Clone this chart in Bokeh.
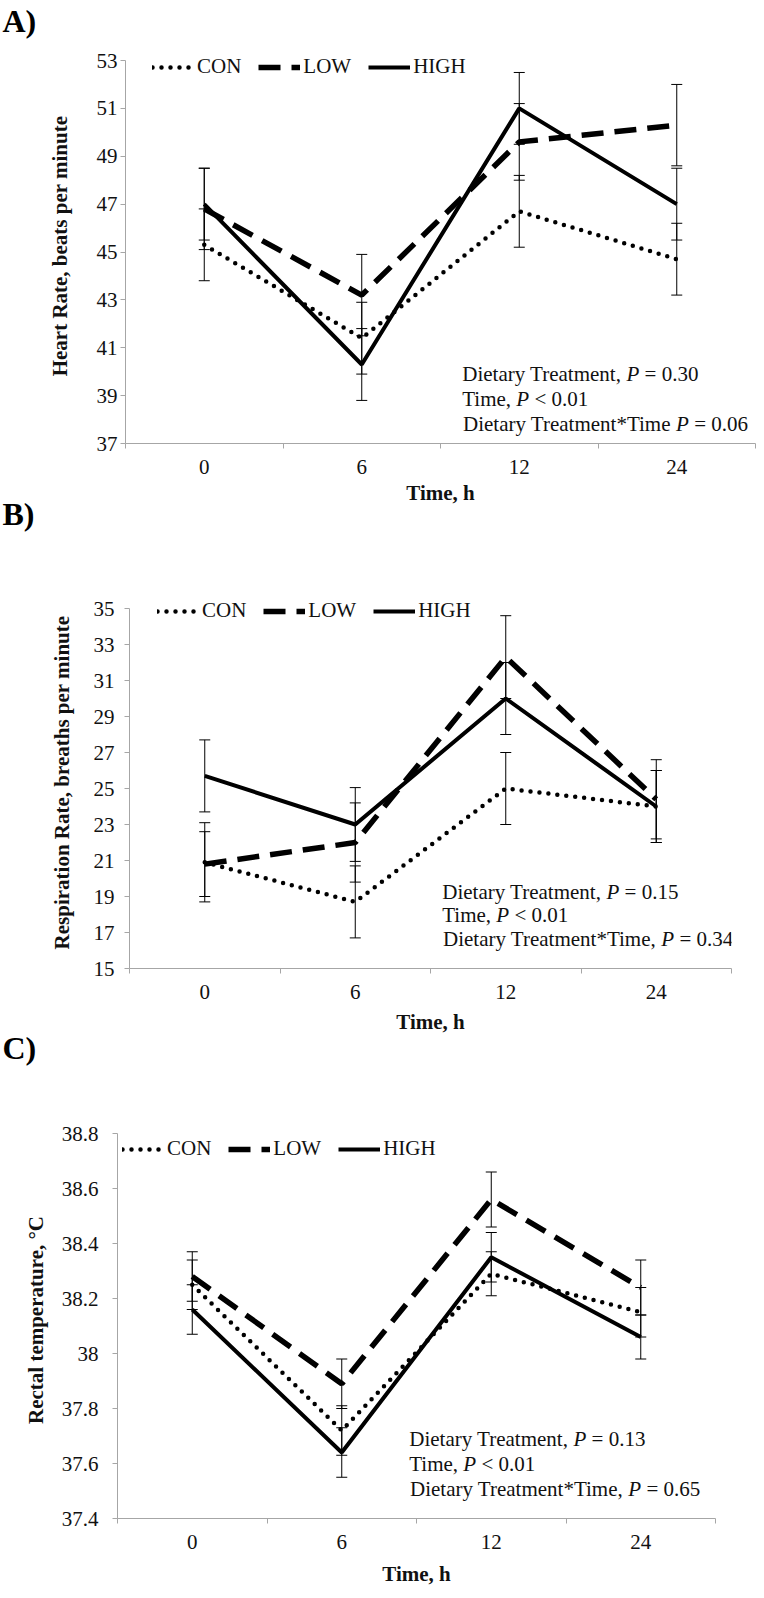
from bokeh.plotting import figure
from bokeh.models import (Range1d, LinearAxis, FixedTicker, CustomJSTickFormatter,
                          PrintfTickFormatter, Whisker, TeeHead, ColumnDataSource,
                          Legend, LegendItem, Label, Title)
from bokeh.layouts import column
from bokeh.embed import file_html
from bokeh.resources import INLINE

# ---------------- data ----------------
times = ["0", "6", "12", "24"]
groups = ["CON", "LOW", "HIGH"]

hr_con = [45.3, 41.4, 46.7, 44.7]
hr_con_se = [1.5, 1.5, 1.5, 1.5]
hr_low = [46.8, 43.2, 49.6, 50.3]
hr_low_se = [1.7, 1.7, 1.6, 1.7]
hr_high = [47.0, 40.3, 51.0, 47.0]
hr_high_se = [1.5, 1.5, 1.5, 1.5]
hr_ticks = [37, 39, 41, 43, 45, 47, 49, 51, 53]

rr_con = [20.9, 18.7, 25.0, 24.0]
rr_con_se = [2.2, 2.0, 2.0, 2.0]
rr_low = [20.8, 22.0, 32.3, 24.4]
rr_low_se = [1.8, 2.2, 2.3, 2.2]
rr_high = [25.7, 23.0, 30.0, 24.0]
rr_high_se = [2.0, 2.05, 2.0, 2.0]
rr_ticks = [15, 17, 19, 21, 23, 25, 27, 29, 31, 33, 35]

rt_con = [38.25, 37.72, 38.29, 38.15]
rt_con_se = [0.09, 0.09, 0.08, 0.09]
rt_low = [38.28, 37.89, 38.56, 38.24]
rt_low_se = [0.09, 0.09, 0.10, 0.10]
rt_high = [38.16, 37.64, 38.35, 38.06]
rt_high_se = [0.09, 0.09, 0.09, 0.08]
rt_ticks = [37.4, 37.6, 37.8, 38.0, 38.2, 38.4, 38.6, 38.8]

hr_stats = [("Dietary Treatment, ", "P", " = 0.30"),
            ("Time, ", "P", " < 0.01"),
            ("Dietary Treatment*Time ", "P", " = 0.06")]
rr_stats = [("Dietary Treatment, ", "P", " = 0.15"),
            ("Time, ", "P", " < 0.01"),
            ("Dietary Treatment*Time, ", "P", " = 0.34")]
rt_stats = [("Dietary Treatment, ", "P", " = 0.13"),
            ("Time, ", "P", " < 0.01"),
            ("Dietary Treatment*Time, ", "P", " = 0.65")]

# ---------------- styling ----------------
FONT = "Liberation Serif"
FS = 21
LFS = 32
TH = FS * 1.107          # text box height used by the layout
LTH = LFS * 1.107 + 2
GRAY = "#a6a6a6"
INK = "#111111"
STYLES = {
    "CON": dict(line_dash="0 9", line_width=4.5, line_cap="round"),
    "LOW": dict(line_dash="22 11", line_width=5.5),
    "HIGH": dict(line_width=4),
}

# Times / Liberation Serif advance widths (per 1000 em)
W_REG = {" ": 250, "*": 500, ",": 250, ".": 250, "<": 564, "=": 564,
         "D": 722, "T": 611, "P": 556, "a": 444, "e": 444, "i": 278, "m": 778,
         "n": 500, "r": 333, "t": 278, "y": 500}
for d in "0123456789":
    W_REG[d] = 500
W_ITAL_P = 611


def text_w(s):
    return sum(W_REG.get(c, 500) for c in s) * FS / 1000.0


def panel(letter, ylabel, ticks, yr, series, stats, g):
    top, h = g["top"], g["h"]
    fl, fr, at, ab = g["fl"], g["fr"], g["at"], g["ab"]
    pad = 12  # room above the top tick for the legend
    n = len(times)
    ymin, ymax = yr
    ytop = ymax + pad * (ymax - ymin) / (ab - at)
    ftop = at - pad
    p = figure(width=764, height=h, output_backend="svg", toolbar_location=None,
               x_range=Range1d(0, n), y_range=Range1d(ymin, ytop),
               x_axis_type=None, y_axis_type=None,
               min_border_left=fl, min_border_right=764 - fr,
               min_border_top=ftop - top, min_border_bottom=top + h - ab)
    if "frame_align" in p.properties():
        p.frame_align = False
    p.outline_line_color = None
    p.background_fill_color = "white"
    p.border_fill_color = "white"
    p.border_fill_alpha = 0.0
    if g.get("overlap", 0):
        try:
            p.margin = (-g["overlap"], 0, 0, 0)
        except Exception:
            pass

    # spacer (nearest the frame) so that the panel letter sits at the figure top
    spacer = LinearAxis(ticker=FixedTicker(ticks=[0.5]), axis_line_color=None,
                        formatter=CustomJSTickFormatter(code="return '';"),
                        major_tick_line_color=None, minor_tick_line_color=None,
                        major_tick_out=max(int(ftop - top - LTH), 0), major_tick_in=0,
                        minor_tick_out=0, major_label_standoff=0,
                        major_label_text_font_size="1px")
    p.add_layout(spacer, "above")
    p.add_layout(Title(text=letter, align="left", offset=2 - fl, standoff=0,
                       text_font=FONT, text_font_size=f"{LFS}px",
                       text_font_style="bold", text_color="black"), "above")

    def dx(px):
        return (px - fl) / (fr - fl) * n

    def dy(py):
        return ymax - (py - at) / (ab - at) * (ymax - ymin)

    # y axis
    ya = LinearAxis(ticker=FixedTicker(ticks=ticks), formatter=PrintfTickFormatter(format="%g"),
                    axis_label=ylabel, bounds=(ymin, ymax))
    ya.axis_line_color = GRAY
    ya.major_tick_line_color = GRAY
    ya.major_tick_out = 5
    ya.major_tick_in = 0
    ya.minor_tick_line_color = None
    ya.major_label_standoff = g["ystand"]
    ya.major_label_text_font = FONT
    ya.major_label_text_font_size = f"{FS}px"
    ya.major_label_text_color = INK
    ya.axis_label_text_font = FONT
    ya.axis_label_text_font_size = f"{FS}px"
    ya.axis_label_text_font_style = "bold"
    ya.axis_label_text_color = INK
    ya.axis_label_standoff = g["lstand"]
    p.add_layout(ya, "left")

    # x axis: boundary ticks
    xa1 = LinearAxis(ticker=FixedTicker(ticks=list(range(n + 1))),
                     formatter=CustomJSTickFormatter(code="return '';"))
    xa1.axis_line_color = GRAY
    xa1.major_tick_line_color = GRAY
    xa1.major_tick_out = 5
    xa1.major_tick_in = 0
    xa1.minor_tick_line_color = None
    xa1.major_label_standoff = 0
    xa1.major_label_text_font_size = "1px"
    p.add_layout(xa1, "below")

    # x axis: category labels at centres, with the axis title
    xstand = 11
    lab_bottom = ab + 14 + xstand + TH / 2
    xa2 = LinearAxis(ticker=FixedTicker(ticks=[i + 0.5 for i in range(n)]),
                     formatter=CustomJSTickFormatter(args=dict(labels=times),
                                                     code="return labels[Math.floor(tick)];"),
                     axis_label="Time, h")
    xa2.axis_line_color = None
    xa2.major_tick_line_color = None
    xa2.minor_tick_line_color = None
    xa2.major_tick_out = 0
    xa2.major_tick_in = 0
    xa2.major_label_standoff = xstand
    xa2.major_label_text_font = FONT
    xa2.major_label_text_font_size = f"{FS}px"
    xa2.major_label_text_color = INK
    xa2.axis_label_text_font = FONT
    xa2.axis_label_text_font_size = f"{FS}px"
    xa2.axis_label_text_font_style = "bold"
    xa2.axis_label_text_color = INK
    xa2.axis_label_standoff = int(g["ty"] - TH / 2 - lab_bottom)
    p.add_layout(xa2, "below")

    xs = [i + 0.5 for i in range(n)]
    items = []
    for name, (vals, se) in zip(groups, series):
        src = ColumnDataSource(dict(x=xs, y=vals,
                                    upper=[v + e for v, e in zip(vals, se)],
                                    lower=[v - e for v, e in zip(vals, se)]))
        w = Whisker(source=src, base="x", upper="upper", lower="lower",
                    line_color="black", line_width=1,
                    upper_head=TeeHead(size=11, line_color="black", line_width=1),
                    lower_head=TeeHead(size=11, line_color="black", line_width=1))
        p.add_layout(w)
        r = p.line(x="x", y="y", source=src, line_color="black", **STYLES[name])
        items.append(LegendItem(label=name, renderers=[r]))

    leg = Legend(items=items, orientation="horizontal",
                 location=(g["lx"] - fl, ab - g["ly"] - 12),
                 padding=0, margin=0, spacing=17, glyph_width=42, glyph_height=24,
                 label_height=24, label_standoff=3, label_text_font=FONT,
                 label_text_font_size=f"{FS}px", label_text_color=INK,
                 background_fill_alpha=0, border_line_color=None)
    p.add_layout(leg)

    # statistics text: "...," (normal) + "P" (italic) + "= ..." (normal)
    sp = text_w(" ")
    for (a, pp, b), cy in zip(stats, g["sy"]):
        px_p = g["sx"] + text_w(a)
        common = dict(y=dy(cy), text_font=FONT, text_font_size=f"{FS}px",
                      text_baseline="middle", text_color=INK)
        p.add_layout(Label(x=dx(px_p - sp), text=a.strip(), text_align="right", **common))
        p.add_layout(Label(x=dx(px_p), text=pp, text_align="left",
                           text_font_style="italic", **common))
        p.add_layout(Label(x=dx(px_p + W_ITAL_P * FS / 1000.0 + sp), text=b.strip(),
                           text_align="left", **common))
    return p


geoA = dict(top=0, h=509, fl=125, fr=755, at=60, ab=443, ystand=3, lstand=22,
            lx=152, ly=67, sx=461, sy=[373, 398, 423], ty=496)
geoB = dict(top=493, h=544, overlap=16, fl=129, fr=731, at=608, ab=968, ystand=10, lstand=17,
            lx=157, ly=611, sx=441, sy=[891, 914, 938], ty=1025)
geoC = dict(top=1027, h=571, overlap=10, fl=117, fr=715, at=1133, ab=1518, ystand=14, lstand=11,
            lx=122, ly=1149, sx=408, sy=[1438, 1463, 1488], ty=1577)

pA = panel("A)", "Heart Rate, beats per minute", hr_ticks, (37, 53),
           [(hr_con, hr_con_se), (hr_low, hr_low_se), (hr_high, hr_high_se)], hr_stats, geoA)
pB = panel("B)", "Respiration Rate, breaths per minute", rr_ticks, (15, 35),
           [(rr_con, rr_con_se), (rr_low, rr_low_se), (rr_high, rr_high_se)], rr_stats, geoB)
pC = panel("C)", "Rectal temperature, °C", rt_ticks, (37.4, 38.8),
           [(rt_con, rt_con_se), (rt_low, rt_low_se), (rt_high, rt_high_se)], rt_stats, geoC)

layout = column(pA, pB, pC, spacing=0)
open("out.html", "w").write(file_html(layout, INLINE))
